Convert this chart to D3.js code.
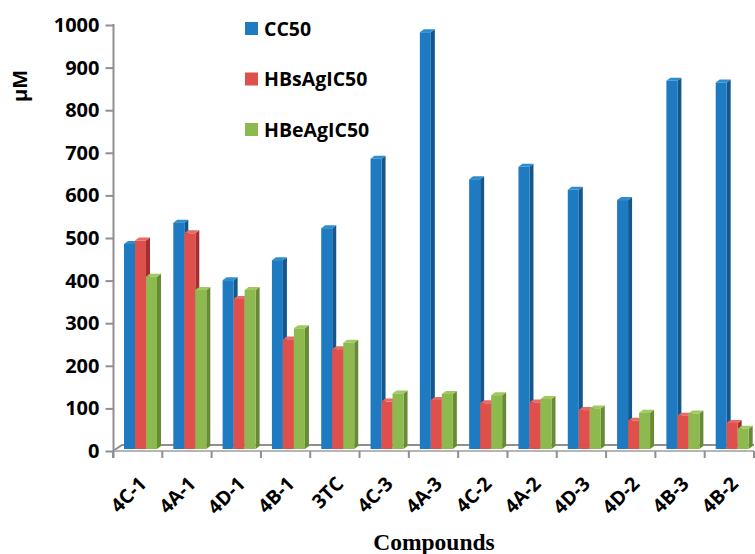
<!DOCTYPE html>
<html>
<head>
<meta charset="utf-8">
<script src="https://cdn.jsdelivr.net/npm/d3@7/dist/d3.min.js"></script>
<style>
  body { margin: 0; background: #fff; }
  text { font-family: "Open Sans", Lato, sans-serif; font-weight: bold; fill: #000; }
</style>
</head>
<body>
<svg id="chart" width="755" height="554"></svg>
<script>
// data
const compounds = ['4C-1', '4A-1', '4D-1', '4B-1', '3TC', '4C-3', '4A-3', '4C-2', '4A-2', '4D-3', '4D-2', '4B-3', '4B-2'];
const cc50 = [486, 536, 401, 448, 523, 686, 983, 638, 667, 613, 589, 869, 865];
const hbsagIC50 = [494, 511, 357, 262, 239, 116, 120, 112, 114, 96, 71, 83, 66];
const hbeagIC50 = [409, 378, 378, 288, 254, 135, 134, 131, 122, 100, 90, 88, 52];
const seriesNames = ['CC50', 'HBsAgIC50', 'HBeAgIC50'];
const yTicks = [0, 100, 200, 300, 400, 500, 600, 700, 800, 900, 1000];

const series = [cc50, hbsagIC50, hbeagIC50];
const palette = {
  front: ['#1f7bc1', '#df4f4b', '#8db94f'],
  side: ['#14578c', '#a32f2e', '#678a35'],
  top: ['#2f8ccf', '#e86a66', '#a0c962'],
};
const axisColor = '#8f8f8f';
const depth = { dx: 4, dy: 3 };

const svg = d3.select('#chart');

const x = d3.scaleBand().domain(compounds).range([113, 754]);
const inner = d3.scaleBand().domain(seriesNames).range([0, 33]);
const y = d3.scaleLinear().domain([0, 1000]).range([451, 25]);
const base = y(0) - 2;

// floor
const floor = svg.append('g').attr('stroke', axisColor).attr('stroke-width', 2).attr('fill', 'none');
floor.append('path').attr('d', `M113,${y(0)}L122,${y(0) - 6}L754,${y(0) - 6}`);
floor.append('line').attr('x1', 113).attr('x2', 754).attr('y1', y(0)).attr('y2', y(0)).attr('stroke', '#b5b5b5');

// category boundary ticks
const bounds = compounds.map(c => x(c)).concat([x.range()[1]]);
floor.selectAll('line.tick').data(bounds).enter().append('line')
  .attr('class', 'tick')
  .attr('x1', d => d).attr('x2', d => d)
  .attr('y1', y(0)).attr('y2', y(0) + 7);

// y axis
const yAxis = d3.axisLeft(y).tickValues(yTicks).tickFormat(d3.format('d')).tickSize(8).tickPadding(6);
const gy = svg.append('g').attr('transform', 'translate(113.5,0)').call(yAxis);
gy.select('.domain').remove();
gy.selectAll('.tick line').attr('stroke', axisColor).attr('stroke-width', 2);
gy.selectAll('.tick text').attr('font-size', 20).style('font-family', '"Open Sans", sans-serif').style('font-weight', 'bold').attr('fill', '#000');
svg.append('line').attr('x1', 113.5).attr('x2', 113.5).attr('y1', y(1000) - 1).attr('y2', y(0) + 7)
  .attr('stroke', axisColor).attr('stroke-width', 2);

// bars
const bars = svg.append('g');
compounds.forEach((c, j) => {
  seriesNames.forEach((s, i) => {
    const v = series[i][j];
    const x0 = x(c) + 11 + inner(s);
    const w = inner.bandwidth();
    const top = y(v);
    const { dx, dy } = depth;
    bars.append('polygon')
      .attr('points', [[x0 + w, top], [x0 + w + dx, top - dy], [x0 + w + dx, base - dy], [x0 + w, base]].join(' '))
      .attr('fill', palette.side[i]);
    bars.append('polygon')
      .attr('points', [[x0, top], [x0 + dx, top - dy], [x0 + w + dx, top - dy], [x0 + w, top]].join(' '))
      .attr('fill', palette.top[i]);
    bars.append('rect')
      .attr('x', x0).attr('y', top)
      .attr('width', w).attr('height', base - top)
      .attr('fill', palette.front[i]);
  });
});

// category labels
svg.append('g').selectAll('text').data(compounds).enter().append('text')
  .attr('transform', d => `translate(${x(d) + x.bandwidth() / 2 + 10},485) rotate(-45)`)
  .attr('text-anchor', 'end')
  .attr('font-size', 19.5)
  .text(d => d);

// axis titles
svg.append('text')
  .attr('transform', 'translate(27,86) rotate(-90)')
  .attr('text-anchor', 'middle')
  .attr('font-size', 20)
  .text('µM');
svg.append('text')
  .attr('x', 434).attr('y', 550)
  .attr('text-anchor', 'middle')
  .style('font-family', '"Liberation Serif", "Times New Roman", serif')
  .attr('font-size', 23.5)
  .text('Compounds');

// legend
const legend = svg.append('g').selectAll('g').data(seriesNames).enter().append('g')
  .attr('transform', (d, i) => `translate(245,${22 + i * 50.5})`);
legend.append('rect').attr('width', 13).attr('height', 13).attr('fill', (d, i) => palette.front[i]);
legend.append('text').attr('x', 19).attr('y', 13.5).attr('font-size', 19.5).text(d => d);
</script>
</body>
</html>
